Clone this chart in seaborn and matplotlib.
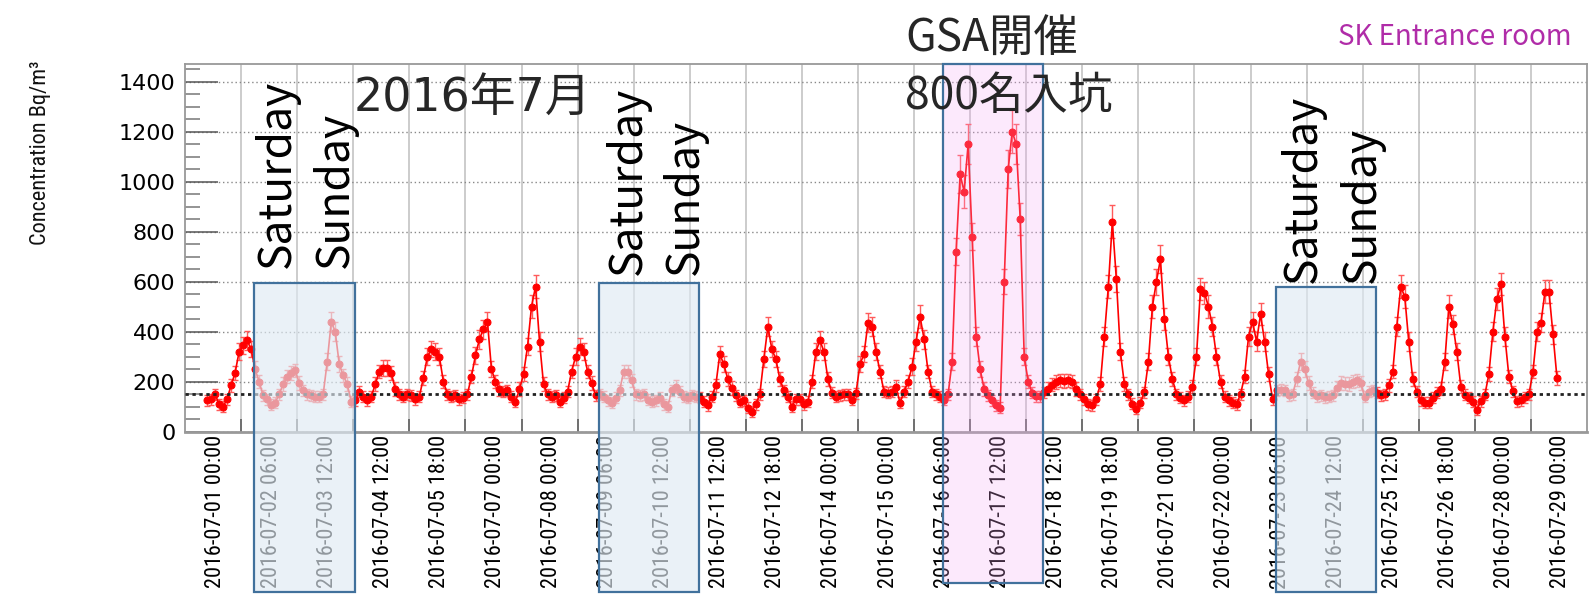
import numpy as np
import pandas as pd
import matplotlib
matplotlib.use('Agg')
import matplotlib.pyplot as plt
from matplotlib.patches import Rectangle
from matplotlib.colors import to_rgba
from matplotlib import font_manager
from matplotlib.font_manager import FontProperties
import seaborn as sns

# radon concentration, SK entrance room, July 2016
# 2-hourly readings (hours 0,2,...,22 of each day), Bq/m3
hours = [0, 2, 4, 6, 8, 10, 12, 14, 16, 18, 20, 22]
pre_t = [-4, -2]
pre_c = [125, 130]
pre_e = [22, 22]

d01 = [150, 110, 100, 130, 185, 235, 320, 345, 365, 330, 250, 200]
d02 = [145, 130, 108, 115, 150, 190, 220, 235, 245, 195, 165, 150]
d03 = [145, 140, 140, 150, 280, 440, 400, 270, 225, 190, 120, 125]
d04 = [160, 140, 125, 140, 190, 240, 255, 255, 235, 170, 150, 140]
d05 = [150, 145, 130, 140, 215, 300, 330, 320, 300, 200, 150, 140]
d06 = [145, 130, 135, 150, 220, 305, 370, 410, 440, 250, 200, 170]
d07 = [160, 165, 140, 120, 170, 230, 340, 500, 580, 360, 190, 150]
d08 = [140, 145, 120, 135, 160, 240, 300, 340, 320, 240, 195, 145]
d09 = [150, 140, 125, 115, 135, 165, 240, 240, 205, 150, 145, 150]
d10 = [127, 120, 125, 135, 110, 100, 165, 180, 160, 140, 135, 145]
d11 = [140, 135, 120, 105, 140, 185, 310, 270, 210, 175, 145, 120]
d12 = [125, 95, 80, 110, 150, 290, 420, 330, 290, 210, 165, 140]
d13 = [100, 130, 130, 110, 120, 200, 320, 365, 320, 210, 155, 140]
d14 = [145, 150, 150, 127, 154, 270, 310, 435, 420, 320, 240, 160]
d15 = [155, 160, 180, 115, 160, 200, 260, 360, 460, 370, 240, 160]
d16 = [150, 140, 127, 150, 280, 720, 1030, 960, 1150, 780, 380, 250]
d17 = [170, 145, 125, 105, 95, 600, 1050, 1200, 1150, 850, 300, 200]
d18 = [155, 142, 142, 158, 172, 188, 198, 205, 202, 205, 200, 170]
d19 = [150, 130, 110, 105, 130, 190, 380, 580, 840, 610, 320, 190]
d20 = [150, 112, 92, 115, 158, 280, 500, 600, 690, 450, 300, 210]
d21 = [150, 135, 125, 140, 180, 300, 570, 555, 500, 420, 300, 200]
d22 = [140, 125, 115, 110, 150, 220, 380, 440, 360, 470, 360, 230]
d23 = [130, 165, 168, 165, 145, 150, 210, 280, 250, 195, 155, 142]
d24 = [145, 138, 140, 145, 175, 195, 192, 190, 200, 205, 195, 140]
d25 = [160, 165, 155, 145, 150, 185, 240, 420, 580, 540, 360, 210]
d26 = [160, 125, 115, 115, 135, 155, 172, 280, 500, 430, 320, 180]
d27 = [148, 135, 120, 88, 122, 148, 230, 400, 530, 590, 380, 220]
d28 = [162, 122, 125, 138, 150, 240, 400, 435, 560, 560, 390, 215]

# error bars
e01 = [22, 22, 22, 22, 27, 27, 33, 33, 38, 33, 33, 27]
e02 = [22, 22, 22, 22, 22, 27, 27, 27, 27, 27, 22, 22]
e03 = [22, 22, 22, 22, 33, 38, 38, 33, 27, 27, 22, 22]
e04 = [22, 22, 22, 22, 27, 27, 33, 33, 27, 27, 22, 22]
e05 = [22, 22, 22, 22, 27, 33, 33, 33, 33, 27, 22, 22]
e06 = [22, 22, 22, 22, 27, 33, 38, 38, 38, 33, 27, 27]
e07 = [22, 22, 22, 22, 27, 27, 33, 45, 45, 38, 27, 22]
e08 = [22, 22, 22, 22, 22, 27, 33, 33, 33, 27, 27, 22]
e09 = [22, 22, 22, 22, 22, 22, 27, 27, 27, 22, 22, 22]
e10 = [22, 22, 22, 22, 22, 22, 22, 27, 22, 22, 22, 22]
e11 = [22, 22, 22, 22, 22, 27, 33, 33, 27, 27, 22, 22]
e12 = [22, 22, 22, 22, 22, 33, 38, 33, 33, 27, 22, 22]
e13 = [22, 22, 22, 22, 22, 27, 33, 38, 33, 27, 22, 22]
e14 = [22, 22, 22, 22, 22, 33, 33, 38, 38, 33, 27, 22]
e15 = [22, 22, 27, 22, 22, 27, 33, 38, 45, 38, 27, 22]
e16 = [22, 22, 22, 22, 33, 55, 75, 65, 80, 55, 38, 33]
e17 = [27, 22, 22, 22, 22, 50, 75, 85, 80, 65, 33, 27]
e18 = [22, 22, 22, 22, 27, 27, 27, 27, 27, 27, 27, 27]
e19 = [22, 22, 22, 22, 22, 27, 38, 45, 65, 52, 33, 27]
e20 = [22, 22, 22, 22, 22, 33, 45, 52, 55, 45, 33, 27]
e21 = [22, 22, 22, 22, 27, 33, 45, 45, 45, 38, 33, 27]
e22 = [22, 22, 22, 22, 22, 27, 38, 38, 38, 45, 38, 27]
e23 = [22, 22, 22, 22, 22, 22, 27, 33, 33, 27, 22, 22]
e24 = [22, 22, 22, 22, 27, 27, 27, 27, 27, 27, 27, 22]
e25 = [22, 22, 22, 22, 22, 27, 27, 38, 45, 45, 38, 27]
e26 = [22, 22, 22, 22, 22, 22, 27, 33, 45, 38, 33, 27]
e27 = [22, 22, 22, 22, 22, 22, 27, 38, 45, 45, 38, 27]
e28 = [22, 22, 22, 22, 22, 27, 38, 38, 45, 45, 38, 27]

tick_labels = ['2016-07-01 00:00', '2016-07-02 06:00', '2016-07-03 12:00', '2016-07-04 12:00',
               '2016-07-05 18:00', '2016-07-07 00:00', '2016-07-08 00:00', '2016-07-09 06:00',
               '2016-07-10 12:00', '2016-07-11 12:00', '2016-07-12 18:00', '2016-07-14 00:00',
               '2016-07-15 00:00', '2016-07-16 06:00', '2016-07-17 12:00', '2016-07-18 12:00',
               '2016-07-19 18:00', '2016-07-21 00:00', '2016-07-22 00:00', '2016-07-23 06:00',
               '2016-07-24 12:00', '2016-07-25 12:00', '2016-07-26 18:00', '2016-07-28 00:00',
               '2016-07-29 00:00']

days = [d01, d02, d03, d04, d05, d06, d07, d08, d09, d10, d11, d12, d13, d14,
        d15, d16, d17, d18, d19, d20, d21, d22, d23, d24, d25, d26, d27, d28]
errs = [e01, e02, e03, e04, e05, e06, e07, e08, e09, e10, e11, e12, e13, e14,
        e15, e16, e17, e18, e19, e20, e21, e22, e23, e24, e25, e26, e27, e28]

t = list(pre_t)
conc = list(pre_c)
err = list(pre_e)
for i in range(len(days)):
    for j in range(len(hours)):
        t.append(24 * i + hours[j])
        conc.append(days[i][j])
        err.append(errs[i][j])

df = pd.DataFrame({'t': t, 'conc': conc, 'err': err})


# ROOT draws axis text in a narrow Helvetica: take the narrowest sans we have
def pick_narrow():
    fl = font_manager.fontManager.ttflist
    for name, size in [('Liberation Sans Narrow', 16), ('Roboto Condensed', 16), ('Arimo Narrow', 16)]:
        for f in fl:
            if f.name == name and f.style == 'normal' and f.weight in (400, 'normal', 'regular'):
                return FontProperties(fname=f.fname), size
    for f in fl:
        if f.name == 'DejaVu Sans' and f.stretch == 'condensed' and f.style == 'normal' \
                and f.weight in (400, 'normal', 'regular'):
            return FontProperties(fname=f.fname), 13
    return FontProperties(family='Roboto'), 13.5


sns.set_theme(style='white')
plt.rcParams['font.family'] = ['Noto Sans CJK JP', 'DejaVu Sans']
narrow_fp, narrow_size = pick_narrow()

fig = plt.figure(figsize=(15.95, 6.05), dpi=100)
ax = fig.add_axes([0.116, 0.2865, 0.879, 0.6075])

ax.errorbar(df['t'], df['conc'], yerr=df['err'], fmt='none', ecolor='#ff5a5a',
            elinewidth=1, capsize=2, capthick=1, zorder=2)
ax.errorbar(df['t'], df['conc'], xerr=1, fmt='none', ecolor='red',
            elinewidth=2, capsize=0, zorder=2)
sns.lineplot(data=df, x='t', y='conc', estimator=None, color='red', lw=1.2,
             marker='o', ms=5, mec='red', mfc='red', ax=ax, zorder=3)

ax.axhline(150, color='#222222', lw=2, ls=(0, (1.2, 1.3)), zorder=4)

ax.set_xlim(-15, 685)
ax.set_ylim(0, 1470)
ax.set_xlabel('')
ax.set_ylabel('')

# x axis: labels sit half a step left of the tick marks
ax.set_xticks(np.arange(0, 673, 28))
ax.set_xticklabels(tick_labels, rotation=90, ha='center', va='top')
for lab in ax.get_xticklabels():
    lab.set_fontproperties(narrow_fp)
    lab.set_fontsize(narrow_size)
    lab.set_color('black')
ax.set_xticks(np.arange(13, 680, 28), minor=True)
ax.tick_params(axis='x', which='major', length=0, pad=2.5)
ax.tick_params(axis='x', which='minor', direction='in', length=9.5, width=1.1,
               color='#555555', bottom=True)
ax.grid(axis='x', which='minor', color='#c8c8c8', lw=1.3, ls='-')

ax.set_yticks(np.arange(0, 1401, 200))
ax.set_yticks(np.arange(0, 1451, 50), minor=True)
ax.tick_params(axis='y', which='major', direction='in', length=24, width=1.1,
               color='#555555', labelsize=16, labelcolor='black', pad=7, left=True)
ax.tick_params(axis='y', which='minor', direction='in', length=11, width=1.1,
               color='#777777', left=True)
for lab in ax.get_yticklabels():
    lab.set_family('DejaVu Sans')
ax.grid(axis='y', which='major', color='#888888', lw=1, ls=(0, (1, 2)))

for s in ax.spines.values():
    s.set_color('#999999')
    s.set_linewidth(1.3)
ax.spines['bottom'].set_linewidth(2)

ylab = fig.text(0.0257, 0.747, 'Concentration Bq/m³', rotation=90, ha='center', va='center',
                color='#111111')
ylab.set_fontproperties(narrow_fp)
ylab.set_fontsize(narrow_size)

# weekend boxes and GSA box (hours, Bq/m3)
blue_face = to_rgba('#dfeaf3', 0.65)
for x0, x1, top in [(19.5, 69.9, 596), (191.7, 241.8, 594), (529.5, 579.6, 580)]:
    ax.add_patch(Rectangle((x0, -641), x1 - x0, top + 641, facecolor=blue_face,
                           edgecolor='#41719c', lw=1.6, clip_on=False, zorder=6))
ax.add_patch(Rectangle((363.6, -605), 413.5 - 363.6, 1470 + 605,
                       facecolor=to_rgba('#f7a8f7', 0.25), edgecolor='#41719c',
                       lw=1.6, clip_on=False, zorder=6))

for x, y, s in [(277, 268, 'Saturday'), (335, 268, 'Sunday'),
                (628, 275, 'Saturday'), (685, 275, 'Sunday'),
                (1303, 283, 'Saturday'), (1362, 283, 'Sunday')]:
    fig.text(x / 1595, (605 - y) / 605, s, rotation=90, ha='center', va='bottom',
             fontsize=32, color='black', zorder=7)

fig.text(354 / 1595, (605 - 98) / 605, '2016年7月', ha='left', va='center', fontsize=33,
         family=['DejaVu Sans', 'Noto Sans CJK JP'])
fig.text(905 / 1595, (605 - 38) / 605, 'GSA開催', ha='left', va='center', fontsize=32)
fig.text(905 / 1595, (605 - 96) / 605, '800名入坑', ha='left', va='center', fontsize=32)
fig.text(1572 / 1595, (605 - 37) / 605, 'SK Entrance room', ha='right', va='center',
         fontsize=20, color='#b02ca8')

fig.savefig('out.png', dpi=100)
